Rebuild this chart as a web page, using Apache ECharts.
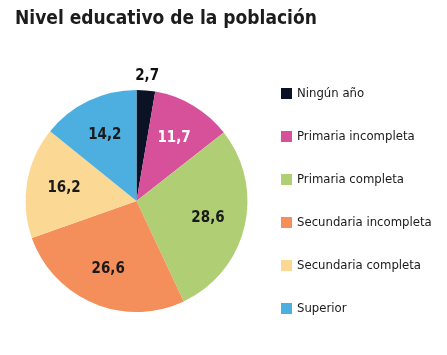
<!DOCTYPE html>
<html><head><meta charset="utf-8">
<script src="https://cdn.jsdelivr.net/npm/echarts@6/dist/echarts.min.js"></script>
<style>html,body{margin:0;padding:0;background:#fff}#c{width:447px;height:355px}</style>
</head><body><div id="c"></div>
<script>
const titleText = 'Nivel educativo de la población';
const categories = ['Ningún año','Primaria incompleta','Primaria completa','Secundaria incompleta','Secundaria completa','Superior'];
const values = [2.7, 11.7, 28.6, 26.6, 16.2, 14.2];
const colors = ['#0b1226','#d6509a','#b0cf74','#f48f5b','#fbd995','#4daee0'];
const labelColors = ['#111','#fff','#1a1a1a','#1a1a1a','#1a1a1a','#1a1a1a'];

const FONT = '"DejaVu Sans Condensed", "Roboto Condensed", Roboto, sans-serif';
const fmt = p => String(p.value).replace('.', ',');
const center = [136.5, 201];
const chart = echarts.init(document.getElementById('c'));
chart.setOption({
  animation: false,
  title: {text: titleText, left: 10, top: 5, textStyle: {fontFamily: FONT, fontWeight: 'bold', fontSize: 19, color: '#1c1c1c'}},
  legend: {
    orient: 'vertical', left: 276, top: 81, itemWidth: 11, itemHeight: 11, itemGap: 28, icon: 'rect',
    data: categories,
    textStyle: {fontFamily: FONT, fontSize: 13, lineHeight: 15, color: '#1a1a1a'}
  },
  series: [
    {type: 'pie', center, radius: [0, 111], startAngle: 90, clockwise: true, silent: true,
     label: {show: false}, labelLine: {show: false}, itemStyle: {borderWidth: 0},
     data: categories.map((n, i) => ({name: n, value: values[i], itemStyle: {color: colors[i]}}))},
    {type: 'pie', center, radius: [30, 111], startAngle: 90, silent: true, legendHoverLink: false,
     itemStyle: {color: 'transparent'}, labelLine: {show: false},
     label: {show: true, position: 'inside', formatter: fmt, fontFamily: FONT, fontWeight: 'bold', fontSize: 15},
     data: values.map((v, i) => ({value: v, label: {show: i > 0, color: labelColors[i]}}))},
    {type: 'pie', center, radius: [111, 133], startAngle: 90, silent: true, legendHoverLink: false,
     itemStyle: {color: 'transparent'}, labelLine: {show: false},
     label: {show: true, position: 'inside', formatter: fmt, fontFamily: FONT, fontWeight: 'bold', fontSize: 15},
     data: values.map((v, i) => ({value: v, label: {show: i === 0, color: labelColors[i]}}))}
  ]
});
</script></body></html>
